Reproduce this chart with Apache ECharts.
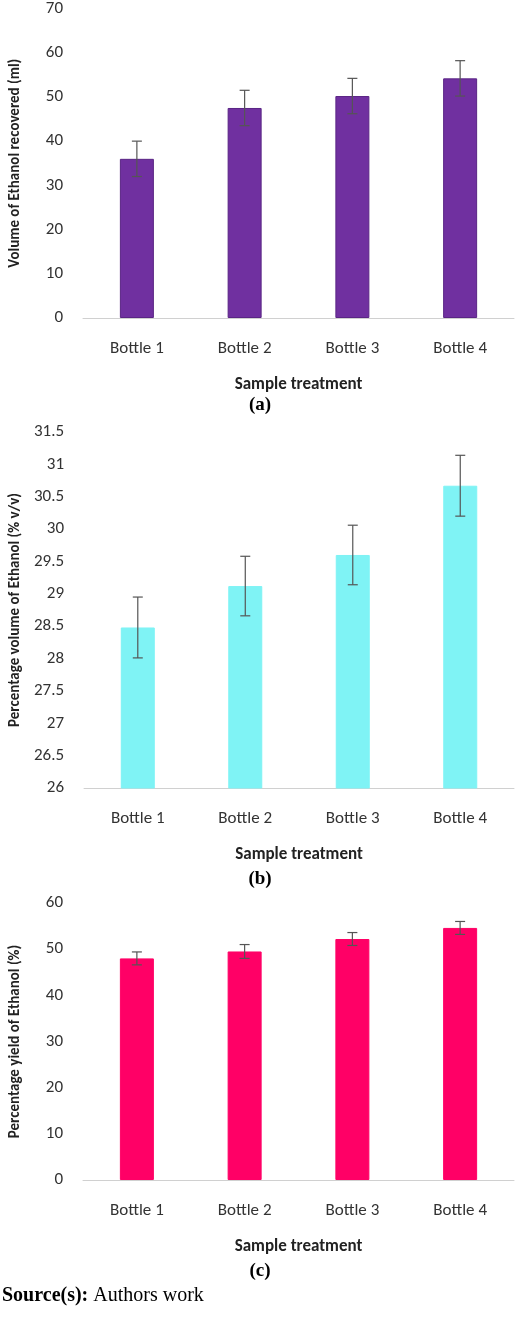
<!DOCTYPE html>
<html><head><meta charset="utf-8">
<script src="https://cdn.jsdelivr.net/npm/echarts@6/dist/echarts.min.js"></script>
<style>html,body{margin:0;padding:0;background:#fff}#c{width:520px;height:1338px}</style>
</head><body><div id="c"></div>
<script>
const categories = ['Bottle 1','Bottle 2','Bottle 3','Bottle 4'];
const volumeValues = [36, 47.5, 50.2, 54.2];
const volumeErrors = [4, 4, 4, 4];
const percentValues = [28.48, 29.12, 29.6, 30.67];
const percentErrors = [0.47, 0.46, 0.46, 0.47];
const yieldValues = [48, 49.5, 52.2, 54.6];
const yieldErrors = [1.4, 1.5, 1.4, 1.4];

const font = 'Calibri, Carlito, "Open Sans", sans-serif';
const grids = [
  {left:78,right:6,top:8,height:310},
  {left:78,right:6,top:432,height:356},
  {left:78,right:6,top:903,height:277}
];
const yCfg = [
  {min:0,max:70,interval:10,name:'Volume of Ethanol recovered (ml)'},
  {min:26,max:31.5,interval:0.5,name:'Percentage volume of Ethanol (% v/v)'},
  {min:0,max:60,interval:10,name:'Percentage yield of Ethanol (%)'}
];
const vals=[volumeValues,percentValues,yieldValues], errs=[volumeErrors,percentErrors,yieldErrors];
const colors=['#7030A0','#7FF3F5','#FF0066'], borders=['#5A2585','#7FF3F5','#FF0066'];

const xAxis=grids.map((g,i)=>({type:'category',gridIndex:i,data:categories,
  axisLine:{lineStyle:{color:'#d0d0d0'}},axisTick:{show:false},
  axisLabel:{color:'#333',fontSize:17,fontFamily:font,margin:22},
  name:'Sample treatment',nameLocation:'middle',nameGap:58,
  nameTextStyle:{fontWeight:'bold',fontSize:17,color:'#222',fontFamily:font}}));
const yAxis=yCfg.map((c,i)=>({type:'value',gridIndex:i,min:c.min,max:c.max,interval:c.interval,
  splitLine:{show:false},axisLine:{show:false},axisTick:{show:false},
  axisLabel:{color:'#333',fontSize:17,fontFamily:font,margin:20},
  name:c.name,nameLocation:'middle',nameGap:60,
  nameTextStyle:{fontWeight:'bold',fontSize:15,color:'#222',fontFamily:font}}));
const series=[];
vals.forEach((v,i)=>{
  series.push({type:'bar',xAxisIndex:i,yAxisIndex:i,data:v,barWidth:34,
    itemStyle:{color:colors[i],borderColor:borders[i],borderWidth:1}});
  series.push({type:'custom',xAxisIndex:i,yAxisIndex:i,z:10,
    data:v.map((y,k)=>[k,y-errs[i][k],y+errs[i][k]]),
    renderItem:(p,api)=>{
      const lo=api.coord([api.value(0),api.value(1)]),hi=api.coord([api.value(0),api.value(2)]);
      const s={stroke:'#555',lineWidth:1.2};
      return {type:'group',children:[
        {type:'line',shape:{x1:lo[0],y1:lo[1],x2:hi[0],y2:hi[1]},style:s},
        {type:'line',shape:{x1:lo[0]-5,y1:lo[1],x2:lo[0]+5,y2:lo[1]},style:s},
        {type:'line',shape:{x1:hi[0]-5,y1:hi[1],x2:hi[0]+5,y2:hi[1]},style:s}]};
    }});
});
const serif='"Liberation Serif","Times New Roman",serif';
const chart=echarts.init(document.getElementById('c'));
chart.setOption({animation:false,grid:grids,xAxis,yAxis,series,
  graphic:[
    {type:'text',left:'center',top:396,style:{text:'(a)',font:'bold 19px '+serif,fill:'#000'}},
    {type:'text',left:'center',top:870,style:{text:'(b)',font:'bold 19px '+serif,fill:'#000'}},
    {type:'text',left:'center',top:1262,style:{text:'(c)',font:'bold 19px '+serif,fill:'#000'}},
    {type:'text',left:2,top:1286,style:{text:'{b|Source(s):} Authors work',
      rich:{b:{font:'bold 20px '+serif,fill:'#000'}},font:'20px '+serif,fill:'#000'}}
  ]});
</script></body></html>
